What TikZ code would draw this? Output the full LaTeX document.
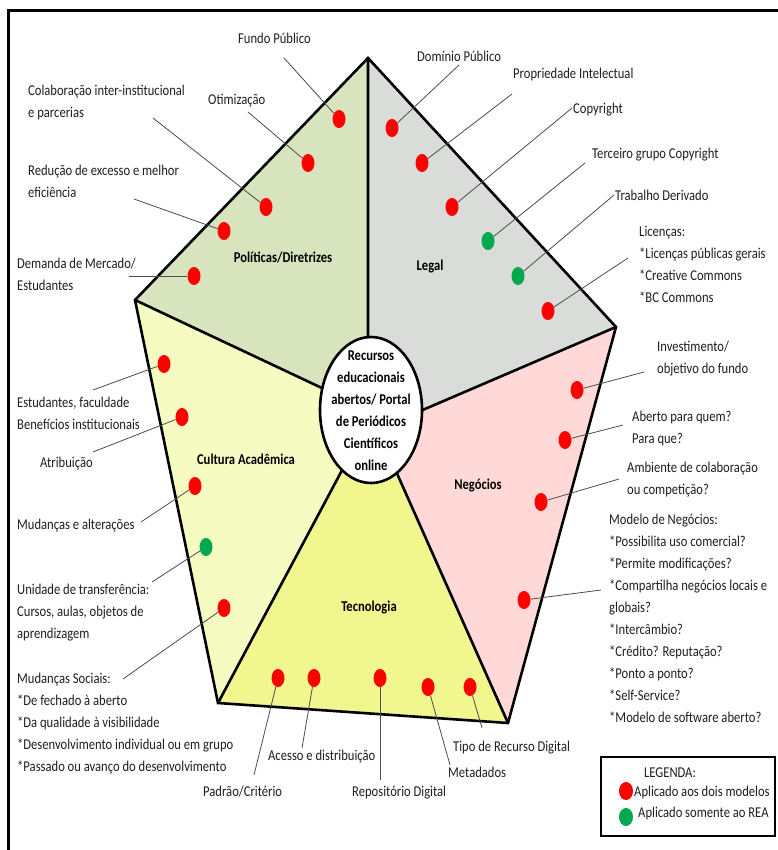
\documentclass[tikz,border=0pt]{standalone}
\usepackage{fontspec}
\setmainfont{Carlito}[FakeStretch=0.84]
\usetikzlibrary{shapes.geometric}
\definecolor{polfill}{HTML}{D7E4BD}
\definecolor{legfill}{HTML}{D9DCD9}
\definecolor{negfill}{HTML}{FFD9D7}
\definecolor{tecfill}{HTML}{F1F68E}
\definecolor{culfill}{HTML}{F6FBC2}
\definecolor{dotred}{HTML}{FF0000}
\definecolor{dotgreen}{HTML}{00A850}
\begin{document}
\begin{tikzpicture}[x=1pt,y=-1pt,
  % multi-line labels: the base anchor sits on the last line's baseline
  txt/.style={inner sep=0pt, align=left, anchor=base west, text=black!88,
    font=\fontsize{15}{22}\selectfont},
  ttl/.style={inner sep=0pt, text=black, font=\bfseries\fontsize{15}{22}\selectfont},
  rdot/.style={ellipse, fill=dotred, minimum width=13pt, minimum height=18pt, inner sep=0pt},
  gdot/.style={rdot, fill=dotgreen},
  leader/.style={draw=black!70, line width=0.8pt},
  rim/.style={draw=black, line width=2.6pt, line join=miter},
]
\useasboundingbox (0,0) rectangle (777,850);
\fill[white] (0,0) rectangle (777,850);

% outer frame (open to the right and bottom)
\draw[line width=3pt] (8,852) -- (8,11) -- (779,11);

% pentagon corners, hub and inner divider targets
\coordinate (T)  at (368,58);
\coordinate (L)  at (135,300);
\coordinate (R)  at (616,327);
\coordinate (BR) at (508,723);
\coordinate (BL) at (218,703);
\coordinate (C)  at (371,410);
\coordinate (iT)  at (368,360);
\coordinate (iL)  at (341,397);
\coordinate (iR)  at (404,418);
\coordinate (iBR) at (387,451);
\coordinate (iBL) at (348,459);

% sectors
\fill[polfill] (T) -- (L) -- (iL) -- (C) -- (iT) -- cycle;
\fill[legfill] (T) -- (R) -- (iR) -- (C) -- (iT) -- cycle;
\fill[negfill] (R) -- (BR) -- (iBR) -- (C) -- (iR) -- cycle;
\fill[tecfill] (BR) -- (BL) -- (iBL) -- (C) -- (iBR) -- cycle;
\fill[culfill] (BL) -- (L) -- (iL) -- (C) -- (iBL) -- cycle;

% dividers and outline
\draw[rim] (T) -- (iT) (L) -- (iL) (R) -- (iR) (BR) -- (iBR) (BL) -- (iBL);
\draw[rim] (T) -- (R) -- (BR) -- (BL) -- (L) -- cycle;

% hub
\draw[rim, fill=white] (C) ellipse [x radius=51pt, y radius=73pt];
\node[ttl, align=center] (hub) at (371,411)
  {Recursos\\educacionais\\abertos/ Portal\\de Periódicos\\Científicos\\online};

% sector titles
\node[ttl] (tpol) at (283,258) {Políticas/Diretrizes};
\node[ttl] (tleg) at (430,267) {Legal};
\node[ttl] (tneg) at (478,486) {Negócios};
\node[ttl] (tcul) at (246,459) {Cultura Acadêmica};
\node[ttl] (ttec) at (369,608) {Tecnologia};

% ---- Políticas/Diretrizes
\node[rdot] (d1) at (339,119) {};
\node[rdot] (d2) at (308,163) {};
\node[rdot] (d3) at (266,207) {};
\node[rdot] (d4) at (224,231) {};
\node[rdot] (d5) at (194,276) {};
\coordinate (d1s) at (284,58);
\coordinate (d2s) at (248,112);
\coordinate (d3s) at (153,118);
\coordinate (d4s) at (134,199);
\coordinate (d5s) at (129,276);
\draw[leader] (d1s) -- (d1);
\draw[leader] (d2s) -- (d2);
\draw[leader] (d3s) -- (d3);
\draw[leader] (d4s) -- (d4);
\draw[leader] (d5s) -- (d5);
\node[txt] (l1) at (238,44) {Fundo Público};
\node[txt] (l2) at (208,105) {Otimização};
\node[txt] (l3) at (28,118) {Colaboração inter-institucional\\e parcerias};
\node[txt] (l4) at (28,198) {Redução de excesso e melhor\\eficiência};
\node[txt] (l5) at (17,290) {Demanda de Mercado/\\Estudantes};

% ---- Legal
\node[rdot] (e1) at (392,128) {};
\node[rdot] (e2) at (422,163) {};
\node[rdot] (e3) at (452,207) {};
\node[gdot] (e4) at (488,241) {};
\node[gdot] (e5) at (518,276) {};
\node[rdot] (e6) at (548,311) {};
\coordinate (e1s) at (459,65);
\coordinate (e2s) at (512,94);
\coordinate (e3s) at (572,108);
\coordinate (e4s) at (585,163);
\coordinate (e5s) at (614,195);
\coordinate (e6s) at (628,258);
\draw[leader] (e1s) -- (e1);
\draw[leader] (e2s) -- (e2);
\draw[leader] (e3s) -- (e3);
\draw[leader] (e4s) -- (e4);
\draw[leader] (e5s) -- (e5);
\draw[leader] (e6s) -- (e6);
\node[txt] (m1) at (417,62) {Domínio Público};
\node[txt] (m2) at (513,79) {Propriedade Intelectual};
\node[txt] (m3) at (573,114) {Copyright};
\node[txt] (m4) at (592,159) {Terceiro grupo Copyright};
\node[txt] (m5) at (615,201) {Trabalho Derivado};
\node[txt] (m6) at (639,302) {Licenças:\\*Licenças públicas gerais\\*Creative Commons\\*BC Commons};

% ---- Negócios
\node[rdot] (n1) at (577,390) {};
\node[rdot] (n2) at (565,440) {};
\node[rdot] (n3) at (541,502) {};
\node[rdot] (n4) at (524,600) {};
\coordinate (n1s) at (644,372);
\coordinate (n2s) at (623,425);
\coordinate (n3s) at (619,479);
\coordinate (n4s) at (601,590);
\draw[leader] (n1s) -- (n1);
\draw[leader] (n2s) -- (n2);
\draw[leader] (n3s) -- (n3);
\draw[leader] (n4s) -- (n4);
\node[txt] (o1) at (657,373) {Investimento/\\objetivo do fundo};
\node[txt] (o2) at (632,443) {Aberto para quem?\\Para que?};
\node[txt] (o3) at (627,494) {Ambiente de colaboração\\ ou competição?};
\node[txt] (o4) at (609,722) {Modelo de Negócios:\\*Possibilita uso comercial?\\*Permite modificações?\\*Compartilha negócios locais e\\globais?\\*Intercâmbio?\\*Crédito? Reputação?\\*Ponto a ponto?\\*Self-Service?\\*Modelo de software aberto?};

% ---- Cultura Acadêmica
\node[rdot] (c1) at (164,364) {};
\node[rdot] (c2) at (182,417) {};
\node[rdot] (c3) at (195,486) {};
\node[gdot] (c4) at (206,547) {};
\node[rdot] (c5) at (224,608) {};
\coordinate (c1s) at (93,390);
\coordinate (c2s) at (93,452);
\coordinate (c3s) at (141,522);
\coordinate (c4s) at (152,582);
\coordinate (c5s) at (123,679);
\draw[leader] (c1s) -- (c1);
\draw[leader] (c2s) -- (c2);
\draw[leader] (c3s) -- (c3);
\draw[leader] (c4s) -- (c4);
\draw[leader] (c5s) -- (c5);
\node[txt] (k1) at (17,429) {Estudantes, faculdade\\Benefícios institucionais};
\node[txt] (k2) at (40,467) {Atribuição};
\node[txt] (k3) at (17,529) {Mudanças e alterações};
\node[txt] (k4) at (17,638) {Unidade de transferência:\\Cursos, aulas, objetos de\\aprendizagem};
\node[txt] (k5) at (17,771) {Mudanças Sociais:\\*De fechado à aberto\\*Da qualidade à visibilidade\\*Desenvolvimento individual ou em grupo\\*Passado ou avanço do desenvolvimento};

% ---- Tecnologia
\node[rdot] (t1) at (278,678) {};
\node[rdot] (t2) at (314,678) {};
\node[rdot] (t3) at (380,678) {};
\node[rdot] (t4) at (428,687) {};
\node[rdot] (t5) at (470,687) {};
\coordinate (t1s) at (254,775);
\coordinate (t2s) at (302,748);
\coordinate (t3s) at (380,780);
\coordinate (t4s) at (450,765);
\coordinate (t5s) at (482,728);
\draw[leader] (t1s) -- (t1);
\draw[leader] (t2s) -- (t2);
\draw[leader] (t3s) -- (t3);
\draw[leader] (t4s) -- (t4);
\draw[leader] (t5s) -- (t5);
\node[txt] (u1) at (203,796) {Padrão/Critério};
\node[txt] (u2) at (268,760) {Acesso e distribuição};
\node[txt] (u3) at (352,796) {Repositório Digital};
\node[txt] (u4) at (448,777) {Metadados};
\node[txt] (u5) at (453,751) {Tipo de Recurso Digital};

% ---- legend
\draw[line width=2.6pt] (601,757) rectangle (775,836);
\node[txt, anchor=base] (lgt) at (670,777) {LEGENDA:};
\node[rdot, minimum width=14pt, minimum height=18pt] (lgr) at (626,791) {};
\node[gdot, minimum width=14pt, minimum height=18pt] (lgg) at (626,817) {};
\node[txt] (lgrt) at (634,796) {Aplicado aos dois modelos};
\node[txt] (lggt) at (638,817) {Aplicado somente ao REA};
\end{tikzpicture}
\end{document}
